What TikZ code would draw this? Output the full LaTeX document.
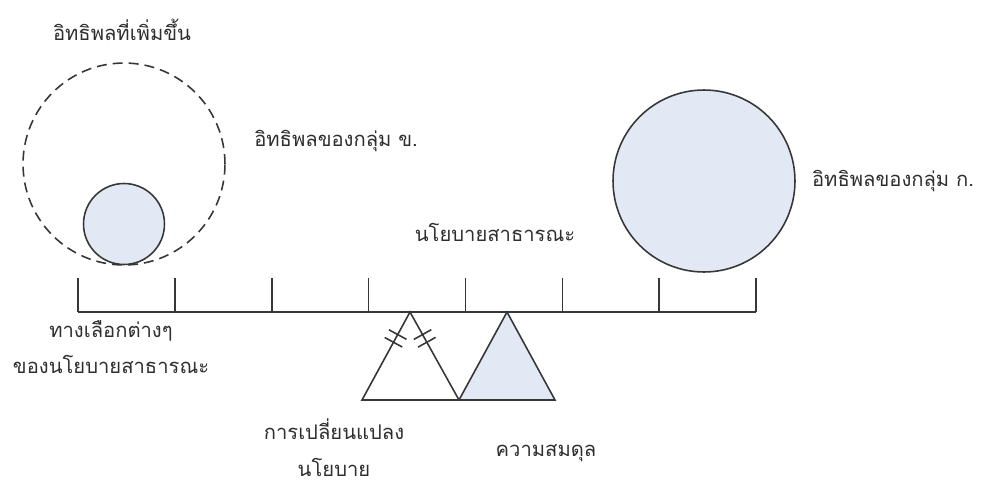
\documentclass[tikz,border=0pt]{standalone}
\usepackage{fontspec}
\newfontfamily\thaifont[Script=Thai]{Loma}
\usepackage{tikz}
\usetikzlibrary{calc}
\usetikzlibrary{positioning}
\definecolor{palefill}{RGB}{226,233,245}
\definecolor{inkline}{RGB}{55,55,55}
\tikzset{
    groupcircle/.style={
        circle,
        draw=inkline,
        line width=0.9pt,
        inner sep=0pt
    },
    % เส้นประของวงกลมอิทธิพล
    extracircle/.style={
        groupcircle,
        dash pattern=on 0.2cm off 0.12cm
    },
    thaitext/.style={
        font=\thaifont\fontsize{11.5}{21}\selectfont,
        text=black!82,
        inner sep=0pt,
        align=center
    },
    beamline/.style={
        line width=0.9pt,
        inkline
    }
}
\begin{document}
\begin{tikzpicture}[x=0.02cm,y=-0.02cm]
\useasboundingbox (0,0) rectangle (987,484);

% คาน
\path
    (78,312) coordinate (b0)
    (756,312) coordinate (b7)
    (410,312) coordinate (t1)
    (362,400) coordinate (l1)
    (459,400) coordinate (m1)
    (507,312) coordinate (t2)
    (555,400) coordinate (r2);

\draw[beamline] (b0) -- (b7);
\foreach \i in {0,...,7}
    \draw[beamline] ($(b0)+(96.86*\i,0)$) -- ++(0,-34);

% จุดหมุน
\draw[beamline] (l1) -- (t1) -- (m1) -- cycle;
\draw[beamline,fill=palefill] (m1) -- (t2) -- (r2) -- cycle;

% เครื่องหมาย
\foreach \s in {-2.5,2.5}{
    \draw[beamline] ($($(t1)!0.3!(l1)$)!\s pt!(l1)$) coordinate (h)
        ($(h)!0.2cm!90:(t1)$) -- ($(h)!0.2cm!-90:(t1)$);
    \draw[beamline] ($($(t1)!0.3!(m1)$)!\s pt!(m1)$) coordinate (h)
        ($(h)!0.2cm!90:(t1)$) -- ($(h)!0.2cm!-90:(t1)$);
}

% วงกลม
\node[extracircle,minimum size=4.04cm] (bigb) at (124,164) {};
\node[groupcircle,fill=palefill,minimum size=1.62cm] (grpb) at (124,224) {};
\node[groupcircle,fill=palefill,minimum size=3.64cm] (grpa) at (704,181) {};

% label
\node[thaitext] (addtxt) at (122,30) {อิทธิพลที่เพิ่มขึ้น};
\node[thaitext] (btxt) at (336,141) {อิทธิพลของกลุ่ม ข.};
\node[thaitext] (atxt) at (893,181) {อิทธิพลของกลุ่ม ก.};
\node[thaitext] (pubtxt) at (495,232) {นโยบายสาธารณะ};
\node[thaitext] (choicetxt) at (111,347) {ทางเลือกต่างๆ\\ของนโยบายสาธารณะ};
\node[thaitext] (changetxt) at (334,448) {การเปลี่ยนแปลง\\นโยบาย};
\node[thaitext] (baltxt) at (546,453) {ความสมดุล};
\end{tikzpicture}
\end{document}
